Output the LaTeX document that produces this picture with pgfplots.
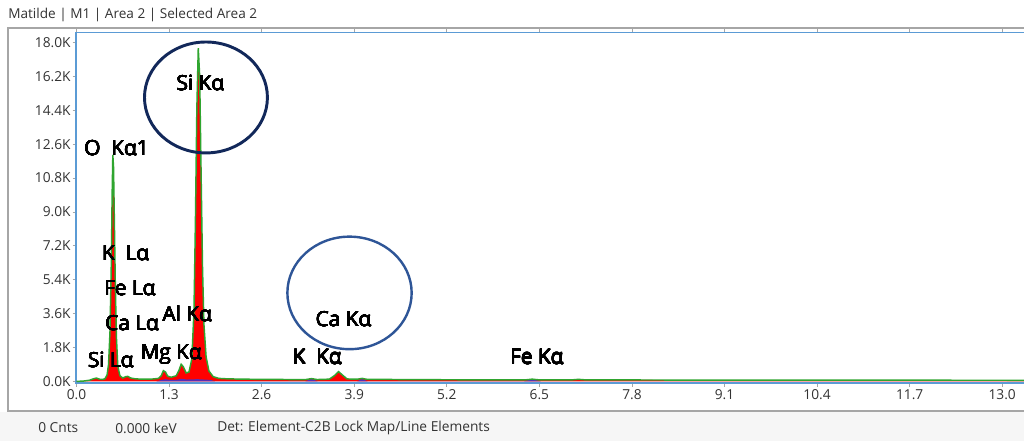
\documentclass[border=0pt]{standalone}
\usepackage{pgfplots}
\pgfplotsset{compat=1.18}
\usepackage{fontspec}
\usepackage[copies]{contour}
\contourlength{0.17pt}
\contournumber{16}
\setmainfont{Open Sans}
\newfontfamily\lblfont{Open Sans}
\definecolor{axblue}{HTML}{5B9BD5}
\definecolor{framegray}{HTML}{A6A6A6}
\definecolor{txtgray}{HTML}{333333}
\definecolor{specgreen}{HTML}{2FA52F}
\definecolor{bgpurple}{HTML}{5A2DB4}
\definecolor{ellA}{HTML}{12285A}
\definecolor{ellB}{HTML}{2E5597}
\definecolor{statusbg}{HTML}{F6F6F6}
\newcommand{\lbl}[1]{\contour{black}{#1}}

\pgfplotstableread{
x y
0.00 0.00
0.10 0.02
0.18 0.06
0.24 0.14
0.28 0.18
0.32 0.12
0.36 0.10
0.40 0.14
0.43 0.35
0.45 0.90
0.47 2.60
0.49 6.50
0.50 9.80
0.51 12.03
0.52 11.40
0.53 9.00
0.545 5.20
0.56 2.40
0.58 0.80
0.61 0.30
0.65 0.18
0.69 0.25
0.72 0.27
0.76 0.18
0.82 0.14
0.90 0.12
1.00 0.12
1.08 0.13
1.15 0.16
1.19 0.30
1.22 0.57
1.25 0.50
1.28 0.28
1.33 0.22
1.40 0.30
1.44 0.60
1.47 0.91
1.50 0.78
1.54 0.45
1.58 0.50
1.62 1.20
1.65 3.80
1.67 8.50
1.69 14.50
1.71 17.70
1.73 16.20
1.75 11.00
1.77 6.00
1.79 3.00
1.82 1.30
1.86 0.55
1.92 0.25
2.00 0.16
2.10 0.14
2.30 0.12
2.60 0.11
3.00 0.10
3.22 0.10
3.30 0.15
3.38 0.10
3.55 0.12
3.62 0.30
3.68 0.52
3.74 0.32
3.80 0.13
3.95 0.12
4.01 0.16
4.08 0.11
5.00 0.09
6.30 0.08
6.40 0.12
6.50 0.08
6.95 0.08
7.05 0.11
7.15 0.08
9.00 0.07
13.40 0.06
}\spectrum

\pgfplotstableread{
x y
1.12 0.00
1.20 0.08
1.25 0.12
1.30 0.08
1.40 0.08
1.47 0.14
1.55 0.10
1.70 0.12
1.88 0.08
1.95 0.00
3.21 0.00
3.30 0.13
3.39 0.00
3.94 0.00
4.01 0.13
4.09 0.00
6.28 0.00
6.40 0.12
6.52 0.00
}\bkg

\begin{document}
\begin{tikzpicture}
\useasboundingbox (0pt,0pt) rectangle (768pt,330.75pt);
\fill[white] (0pt,0pt) rectangle (768pt,330.75pt);
\fill[statusbg] (0pt,0pt) rectangle (768pt,22pt);
\draw[framegray, line width=1pt] (6pt,22.5pt) rectangle (790pt,309.75pt);
\node[anchor=west, text=txtgray, font=\fontsize{10.2}{11}\selectfont, inner sep=0pt] at (6pt,319.5pt) {Matilde | M1 | Area 2 | Selected Area 2};
\node[anchor=west, text=txtgray, font=\fontsize{10.3}{11}\selectfont, inner sep=0pt] at (28.5pt,9.75pt) {0 Cnts};
\node[anchor=west, text=txtgray, font=\fontsize{10.3}{11}\selectfont, inner sep=0pt] at (86.25pt,9.75pt) {0.000 keV};
\node[anchor=west, text=txtgray, font=\fontsize{10.3}{11}\selectfont, inner sep=0pt] at (162.75pt,9.75pt) {Det: Element-C2B Lock Map/Line Elements};

\begin{axis}[
  at={(57pt,43.275pt)}, anchor=south west,
  scale only axis, width=715.5pt, height=262.95pt,
  xmin=-0.007, xmax=13.39, ymin=-0.1, ymax=18.52,
  axis line style={axblue, line width=1.2pt},
  xtick={0,1.3,2.6,3.9,5.2,6.5,7.8,9.1,10.4,11.7,13.0},
  xticklabels={0.0,1.3,2.6,3.9,5.2,6.5,7.8,9.1,10.4,11.7,13.0},
  ytick={0,1.8,3.6,5.4,7.2,9.0,10.8,12.6,14.4,16.2,18.0},
  yticklabels={0.0K,1.8K,3.6K,5.4K,7.2K,9.0K,10.8K,12.6K,14.4K,16.2K,18.0K},
  tick align=outside, major tick length=2.5pt,
  tick style={framegray, line width=0.6pt},
  ticklabel style={text=txtgray, font=\fontsize{10.3}{11}\selectfont},
  /pgf/number format/assume math mode=true,
  xticklabel style={yshift=1pt},
  yticklabel style={xshift=2pt},
  clip mode=individual,
]
\addplot[fill=red, draw=none] table[x=x,y=y] {\spectrum} \closedcycle;
\addplot[fill=bgpurple, draw=none] table[x=x,y=y] {\bkg} \closedcycle;
\addplot[specgreen, line width=1.1pt] table[x=x,y=y] {\spectrum};

\draw[ellA, line width=2.2pt] (axis cs:1.818,15.08) ellipse [x radius=46.1pt, y radius=41.6pt];
\draw[ellB, line width=1.8pt] (axis cs:3.834,4.70) ellipse [x radius=46.6pt, y radius=42.2pt];

\begin{scope}[every node/.style={font=\lblfont\fontsize{15.6}{16}\selectfont, inner sep=0pt, text=black}]
\node at (axis cs:0.562,12.40) {\lbl{O\ \ Kα1}};
\node at (axis cs:1.740,15.84) {\lbl{Si Kα}};
\node at (axis cs:0.690,6.81) {\lbl{K\ \ Lα}};
\node at (axis cs:0.750,4.95) {\lbl{Fe Lα}};
\node at (axis cs:0.780,3.09) {\lbl{Ca Lα}};
\node at (axis cs:1.555,3.58) {\lbl{Al Kα}};
\node at (axis cs:0.482,1.14) {\lbl{Si Lα}};
\node at (axis cs:1.330,1.41) {\lbl{Mg Kα}};
\node at (axis cs:3.380,1.30) {\lbl{K\ \ Kα}};
\node at (axis cs:3.750,3.30) {\lbl{Ca Kα}};
\node at (axis cs:6.465,1.30) {\lbl{Fe Kα}};
\end{scope}
\end{axis}
\end{tikzpicture}
\end{document}
